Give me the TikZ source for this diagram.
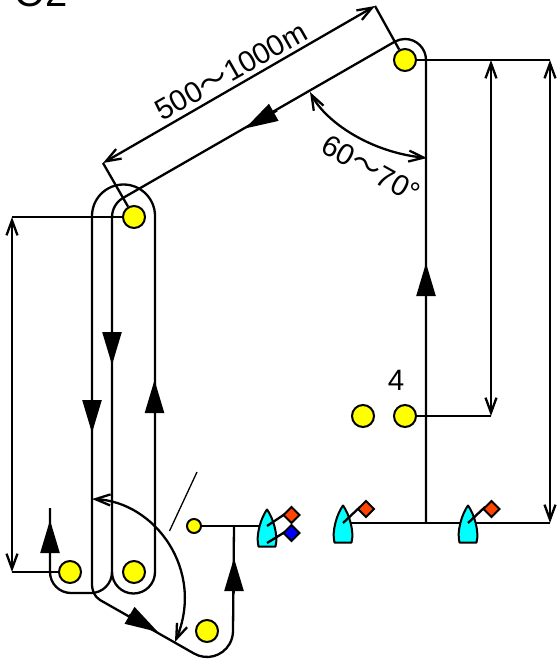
\documentclass[tikz,border=0pt]{standalone}
\usepackage{fontspec}
\setmainfont{Liberation Sans}
\newfontfamily\cjk{Noto Sans CJK JP}
\usetikzlibrary{arrows.meta}

\definecolor{hull}{RGB}{0,255,255}
\definecolor{buoyfill}{RGB}{255,255,0}
\definecolor{flagred}{RGB}{255,69,0}
\definecolor{flagblue}{RGB}{0,0,255}

\tikzset{
  boat/.pic={
    \path[draw=black, line width=2pt, fill=hull, line join=round]
      (-8.5,19) .. controls (-11.5,8) and (-6,-10) .. (0,-18) .. controls (6,-10) and (11.5,8) .. (8.5,19) -- cycle;
  },
  flag/.pic={
    \path[draw=black, line width=1.8pt, fill=#1] (0,-8) -- (8,0) -- (0,8) -- (-8,0) -- cycle;
  }
}

\begin{document}
\begin{tikzpicture}[x=1pt, y=-1pt, line width=2.3pt]
\tikzstyle{buoy} = [circle, draw=black, fill=buoyfill, line width=2pt, minimum size=22pt, inner sep=0pt]
\tikzstyle{smallbuoy} = [buoy, minimum size=14pt]
\tikzstyle{dim} = [<->, >={Straight Barb[length=15pt, width=11pt]}]
\tikzstyle{lead} = [-{Triangle[length=33pt, width=19pt]}]
\tikzstyle{label} = [font=\fontsize{29.5}{30}\selectfont, inner sep=0pt]

\useasboundingbox (0,0) rectangle (557,663);

\node[anchor=base west, inner sep=0pt, font=\fontsize{40}{40}\selectfont] (title) at (13,7) {O2};

% start and finish lines
\coordinate (P1) at (234,526);
\coordinate (P2) at (426,523);
\coordinate (B2) at (343,523);
\coordinate (E2) at (550,523);
\node[smallbuoy] (pin) at (194,526) {};
\coordinate (B1) at (267,526);
\draw (pin) -- (B1);
\draw (B2) -- (E2);

% course legs
\draw (P2) -- (426,60) arc[start angle=360, end angle=240.8, radius=21]
  -- (123.3,197.8) arc[start angle=240.8, end angle=180, radius=22] -- (112,572);
\draw (155,572) arc[start angle=0, end angle=180, radius=21.5];
\draw (50,508) -- (50,572) arc[start angle=180, end angle=90, radius=21] -- (91,593)
  arc[start angle=90, end angle=0, radius=21];
\draw (155,572) -- (155,216) arc[start angle=360, end angle=180, radius=31.5] -- (92,583)
  .. controls (92,591) and (94,596) .. (100,600) -- (194,653.5)
  arc[start angle=120, end angle=0, radius=26] -- (P1);

% leg arrows
\draw[lead] (426,297) -- (426,263);
\draw[lead] (154.5,412) -- (154.5,380);
\draw[lead] (112,331) -- (112,365);
\draw[lead] (92,399) -- (92,433);
\draw[lead] (50,554) -- (50,520);
\draw[lead] (234,593) -- (234,558);
\draw[lead] (277,110.5) -- (245,128.5);
\draw[lead] (129,615) -- (158,632);

% marks
\node[buoy] (M1) at (405,60) {};
\node[buoy] (M2) at (134,217) {};
\node[buoy] (G1) at (70,572) {};
\node[buoy] (G2) at (134,572) {};
\node[buoy] (M3) at (207,631) {};
\node[buoy] (M4a) at (363,416) {};
\node[buoy] (M4b) at (405,416) {};
\node[label] (four) at (396,380) {4};

% dimensions
\coordinate (DT) at (375,6);
\coordinate (DB) at (103,163);
\coordinate (LT) at (12,217);
\coordinate (LB) at (12,572);
\coordinate (RT) at (491,60);
\coordinate (RB) at (491,416);
\coordinate (FT) at (550,60);
\coordinate (FB) at (550,523);
\draw[dim] (DB) -- (DT);
\draw (DT) -- (M1);
\draw (DB) -- (M2);
\draw[dim] (LT) -- (LB);
\draw (LT) -- (M2);
\draw (LB) -- (G1);
\draw[dim] (RT) -- (RB);
\draw (M4b) -- (RB);
\draw[dim] (FT) -- (FB);
\draw (M1) -- (FT);

\coordinate (A1) at (310,92);
\coordinate (A2) at (427,158);
\draw[dim] (A1) .. controls (326,122) and (370,152) .. (A2);
\coordinate (T1) at (92,499);
\coordinate (T2) at (175,642);
\draw[dim] (T1) .. controls (155,502) and (205,570) .. (T2);

\node[label, rotate=29.6] (dist) at (231,71) {500{\cjk 〜}1000m};
\node[label, rotate=-29] (angle) at (371,169) {60{\cjk 〜}70°};

% wind line
\coordinate (W1) at (197,472);
\coordinate (W2) at (169.5,531);
\draw[line width=1.3pt] (W1) -- (W2);

% boats
\pic at (267,527.5) {boat};
\pic at (343,523.5) {boat};
\pic at (468,523.5) {boat};
\draw (267,526) -- (285,514);
\draw (267,543) -- (285,532);
\draw (343,523) -- (360,507);
\draw (468,523) -- (485,507);
\pic at (291.5,515) {flag=flagred};
\pic at (291.5,533) {flag=flagblue};
\pic at (366,509) {flag=flagred};
\pic at (491.5,509) {flag=flagred};

\end{tikzpicture}
\end{document}
